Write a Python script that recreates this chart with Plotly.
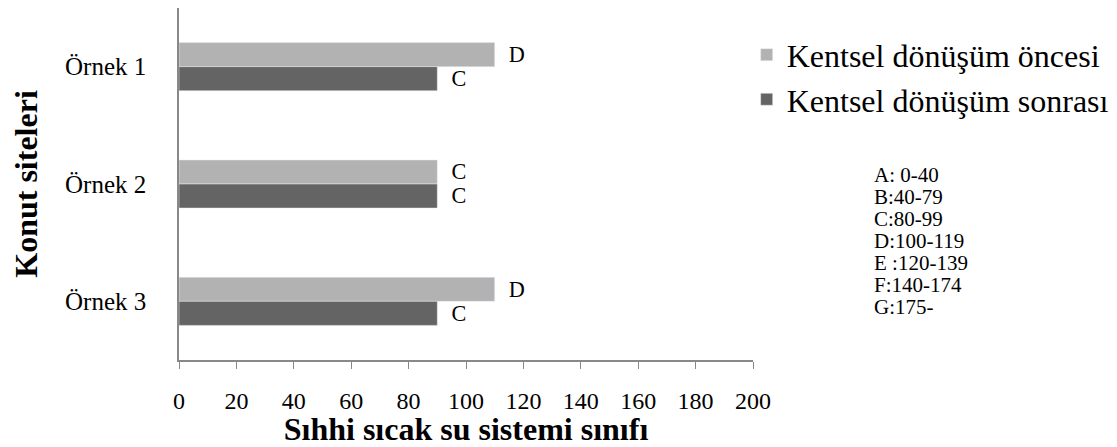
import plotly.graph_objects as go

# data
sites = ["Örnek 1", "Örnek 2", "Örnek 3"]
before = [110, 90, 110]
after = [90, 90, 90]
before_class = ["D", "C", "D"]
after_class = ["C", "C", "C"]
grade_scale = ["A: 0-40", "B:40-79", "C:80-99", "D:100-119", "E :120-139", "F:140-174", "G:175-"]

FONT = "Liberation Serif"
LIGHT = "#b2b2b2"
DARK = "#646464"

fig = go.Figure()
fig.add_trace(go.Bar(
    y=sites, x=before, orientation="h", name="Kentsel dönüşüm öncesi",
    marker=dict(color=LIGHT), text=before_class, texttemplate="\u00a0\u00a0%{text}",
    textposition="outside", textfont=dict(family=FONT, size=24, color="black"), cliponaxis=False,
    legendgroup="a",
))
fig.add_trace(go.Bar(
    y=sites, x=after, orientation="h", name="Kentsel dönüşüm sonrası",
    marker=dict(color=DARK), text=after_class, texttemplate="\u00a0\u00a0%{text}",
    textposition="outside", textfont=dict(family=FONT, size=24, color="black"), cliponaxis=False,
    legendgroup="b",
))

# grade scale key, one line per annotation so the spacing stays tight
for i, g in enumerate(grade_scale):
    fig.add_annotation(
        xref="paper", yref="paper", x=1.207, y=1 - (167 + 22 * i) / 352,
        xanchor="left", yanchor="middle", text=g, showarrow=False, align="left",
        font=dict(family=FONT, size=21, color="black"),
    )

fig.update_layout(
    width=1109, height=439,
    margin=dict(l=171, r=364, t=0, b=87, autoexpand=False),
    paper_bgcolor="white", plot_bgcolor="white",
    font=dict(family=FONT, color="black"),
    barmode="group", bargap=0.59, bargroupgap=0,
    legend=dict(x=0.989, y=0.945, xanchor="left", yanchor="top",
                font=dict(family=FONT, size=32), tracegroupgap=5, traceorder="normal",
                bgcolor="rgba(0,0,0,0)"),
    xaxis=dict(range=[0, 200], dtick=20, showgrid=False, zeroline=False,
               showline=True, linecolor="#888888", linewidth=1.5,
               ticks="outside", ticklen=7, tickcolor="#888888",
               tickfont=dict(family=FONT, size=24), ticklabelstandoff=11,
               title=dict(text="<b>Sıhhi sıcak su sistemi sınıfı</b>", font=dict(family=FONT, size=32), standoff=2)),
    yaxis=dict(autorange="reversed", showgrid=False, zeroline=False,
               showline=True, linecolor="#888888", linewidth=1.5,
               ticks="", tickfont=dict(family=FONT, size=25), ticklabelstandoff=26,
               title=dict(text="<b>Konut siteleri</b>", font=dict(family=FONT, size=32), standoff=24)),
)

fig.write_html("out.html")
